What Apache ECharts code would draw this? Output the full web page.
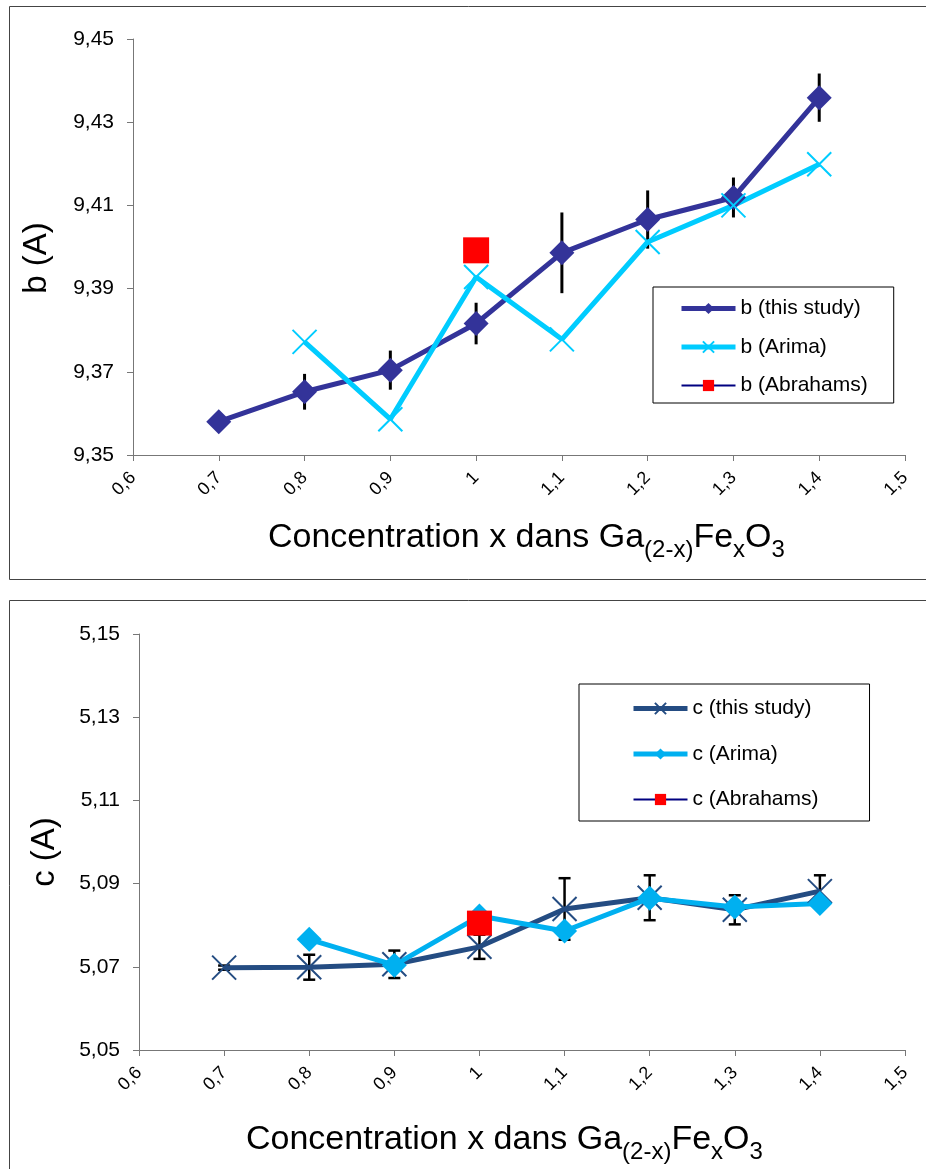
<!DOCTYPE html>
<html><head><meta charset="utf-8">
<script src="https://cdn.jsdelivr.net/npm/echarts@6/dist/echarts.min.js"></script>
<style>html,body{margin:0;padding:0;background:#fff}#c{width:926px;height:1169px}</style>
</head><body><div id="c"></div>
<script>
// ---- data ----
const xValues = [0.7, 0.8, 0.9, 1.0, 1.1, 1.2, 1.3, 1.4];
const bStudy = [9.358, 9.3652, 9.3704, 9.3816, 9.3986, 9.4066, 9.4119, 9.4359];
const bStudyErr = [0, 0.0043, 0.0047, 0.005, 0.0097, 0.007, 0.0048, 0.0058];
const xArima = [0.8, 0.9, 1.0, 1.1, 1.2, 1.3, 1.4];
const bArima = [9.3772, 9.3586, 9.3928, 9.3778, 9.4012, 9.41, 9.4199];
const xAbrahams = [1.0];
const bAbrahams = [9.3992];
const cStudy = [5.0698, 5.0699, 5.0706, 5.0748, 5.0839, 5.0866, 5.0837, 5.0882];
const cStudyErr = [0.0005, 0.003, 0.0033, 0.0029, 0.0074, 0.0054, 0.0035, 0.0038];
const cArima = [5.0766, 5.0704, 5.0822, 5.0786, 5.0865, 5.0844, 5.0852];
const cAbrahams = [5.0805];
const xTickLabels = ['0,6', '0,7', '0,8', '0,9', '1', '1,1', '1,2', '1,3', '1,4', '1,5'];
const bTickLabels = ['9,35', '9,37', '9,39', '9,41', '9,43', '9,45'];
const cTickLabels = ['5,05', '5,07', '5,09', '5,11', '5,13', '5,15'];
const bNames = ['b (this study)', 'b (Arima)', 'b (Abrahams)'];
const cNames = ['c (this study)', 'c (Arima)', 'c (Abrahams)'];

// ---- styling ----
const FONT = '"Liberation Sans", Arial, sans-serif';
const CROSS = 'path://M0,0L24,24M24,0L0,24';
const axisColor = '#777';

function pairs(xs, ys) { return xs.map((x, i) => [x, ys[i]]); }
function errData(xs, ys, es) { return xs.map((x, i) => [x, ys[i] - es[i], ys[i] + es[i]]); }

function errRender(cap, color, width) {
  return function (params, api) {
    const x = api.value(0);
    const p1 = api.coord([x, api.value(2)]);
    const p2 = api.coord([x, api.value(1)]);
    const ch = [{ type: 'line', shape: { x1: p1[0], y1: p1[1], x2: p2[0], y2: p2[1] }, style: { stroke: color, lineWidth: width } }];
    if (cap) {
      ch.push({ type: 'line', shape: { x1: p1[0] - cap, y1: p1[1], x2: p1[0] + cap, y2: p1[1] }, style: { stroke: color, lineWidth: width } });
      ch.push({ type: 'line', shape: { x1: p2[0] - cap, y1: p2[1], x2: p2[0] + cap, y2: p2[1] }, style: { stroke: color, lineWidth: width } });
    }
    return { type: 'group', children: ch };
  };
}

function xAxisCfg(gi) {
  return {
    type: 'value', gridIndex: gi, min: 0.6, max: 1.5, interval: 0.1,
    axisLine: { show: true, onZero: false, lineStyle: { color: axisColor, width: 1 } },
    axisTick: { show: true, inside: false, length: 6, lineStyle: { color: axisColor } },
    splitLine: { show: false },
    axisLabel: {
      rotate: 45, margin: 20, fontSize: 18, color: '#000', fontFamily: FONT,
      formatter: v => xTickLabels[Math.round((v - 0.6) / 0.1)]
    }
  };
}
function yAxisCfg(gi, min, max, labels) {
  return {
    type: 'value', gridIndex: gi, min: min, max: max, interval: 0.02,
    axisLine: { show: true, lineStyle: { color: axisColor, width: 1 } },
    axisTick: { show: true, inside: false, length: 6, lineStyle: { color: axisColor } },
    splitLine: { show: false },
    axisLabel: {
      margin: 19, fontSize: 21, color: '#000', fontFamily: FONT,
      formatter: v => labels[Math.round((v - min) / 0.02)]
    }
  };
}

const legendLineWidths = [5, 5, 2];
function legendCfg(names, left, top, pad, gap) {
  return {
    orient: 'vertical', left: left, top: top, padding: pad,
    itemWidth: 54, itemHeight: 14, itemGap: gap,
    borderColor: '#000', borderWidth: 1, selectedMode: false,
    textStyle: { fontSize: 21, color: '#000', fontFamily: FONT, lineHeight: 20 },
    data: names.map((n, i) => ({ name: n, lineStyle: { width: legendLineWidths[i] } }))
  };
}

const subTitle = {
  m: { fontSize: 34, lineHeight: 40, fontFamily: FONT, color: '#000' },
  s: { fontSize: 24, lineHeight: 24, fontFamily: FONT, color: '#000', padding: [24, 0, 0, 0] }
};
const xTitleText = '{m|Concentration x dans Ga}{s|(2-x)}{m|Fe}{s|x}{m|O}{s|3}';

const chart = echarts.init(document.getElementById('c'), null, { renderer: 'canvas' });
chart.setOption({
  animation: false,
  backgroundColor: '#fff',
  grid: [
    { left: 133, top: 39, width: 772, height: 416 },
    { left: 139, top: 634, width: 766, height: 416 }
  ],
  xAxis: [xAxisCfg(0), xAxisCfg(1)],
  yAxis: [yAxisCfg(0, 9.35, 9.45, bTickLabels), yAxisCfg(1, 5.05, 5.15, cTickLabels)],
  legend: [
    legendCfg(bNames, 653, 287, [11, 26, 7, 26], 17.5),
    legendCfg(cNames, 579, 684, [14, 51, 11, 52], 24.5)
  ],
  graphic: [
    { type: 'rect', silent: true, z: -10, shape: { x: 9.5, y: 6.5, width: 1000, height: 573 }, style: { fill: 'none', stroke: '#444', lineWidth: 1 } },
    { type: 'rect', silent: true, z: -10, shape: { x: 9.5, y: 600.5, width: 1000, height: 700 }, style: { fill: 'none', stroke: '#444', lineWidth: 1 } },
    { type: 'text', silent: true, x: 37, y: 258, rotation: Math.PI / 2,
      style: { text: 'b (A)', fontSize: 33, fontFamily: FONT, fill: '#000', align: 'center', verticalAlign: 'middle' } },
    { type: 'text', silent: true, x: 45, y: 852, rotation: Math.PI / 2,
      style: { text: 'c (A)', fontSize: 33, fontFamily: FONT, fill: '#000', align: 'center', verticalAlign: 'middle' } },
    { type: 'text', silent: true, x: 268, y: 538,
      style: { text: xTitleText, rich: subTitle, align: 'left', verticalAlign: 'middle' } },
    { type: 'text', silent: true, x: 246, y: 1140,
      style: { text: xTitleText, rich: subTitle, align: 'left', verticalAlign: 'middle' } }
  ],
  series: [
    // ---- top chart (b) ----
    { type: 'custom', name: 'errB', xAxisIndex: 0, yAxisIndex: 0, silent: true,
      renderItem: errRender(0, '#000', 3), data: errData(xValues, bStudy, bStudyErr), encode: { x: 0, y: [1, 2] } },
    { type: 'line', name: bNames[0], xAxisIndex: 0, yAxisIndex: 0, data: pairs(xValues, bStudy),
      symbol: 'diamond', symbolSize: 25, showAllSymbol: true,
      lineStyle: { color: '#333399', width: 5 }, itemStyle: { color: '#333399' }, emphasis: { disabled: true } },
    { type: 'line', name: bNames[1], xAxisIndex: 0, yAxisIndex: 0, data: pairs(xArima, bArima),
      symbol: CROSS, symbolSize: 24,
      lineStyle: { color: '#00CCFF', width: 5 }, itemStyle: { color: '#00CCFF', borderColor: '#00CCFF', borderWidth: 2 }, emphasis: { disabled: true } },
    { type: 'line', name: bNames[2], xAxisIndex: 0, yAxisIndex: 0, data: pairs(xAbrahams, bAbrahams),
      symbol: 'rect', symbolSize: 26,
      lineStyle: { color: '#000080', width: 2 }, itemStyle: { color: '#FF0000' }, emphasis: { disabled: true } },
    // ---- bottom chart (c) ----
    { type: 'line', name: cNames[0], xAxisIndex: 1, yAxisIndex: 1, data: pairs(xValues, cStudy),
      symbol: CROSS, symbolSize: 24,
      lineStyle: { color: '#244C82', width: 5 }, itemStyle: { color: '#244C82', borderColor: '#244C82', borderWidth: 2 }, emphasis: { disabled: true } },
    { type: 'custom', name: 'errC', xAxisIndex: 1, yAxisIndex: 1, silent: true,
      renderItem: errRender(6, '#000', 2.5), data: errData(xValues, cStudy, cStudyErr), encode: { x: 0, y: [1, 2] } },
    { type: 'line', name: cNames[1], xAxisIndex: 1, yAxisIndex: 1, data: pairs(xArima, cArima),
      symbol: 'diamond', symbolSize: 25,
      lineStyle: { color: '#00B0F0', width: 5 }, itemStyle: { color: '#00B0F0' }, emphasis: { disabled: true } },
    { type: 'line', name: cNames[2], xAxisIndex: 1, yAxisIndex: 1, data: pairs(xAbrahams, cAbrahams),
      symbol: 'rect', symbolSize: 25,
      lineStyle: { color: '#000080', width: 2 }, itemStyle: { color: '#FF0000' }, emphasis: { disabled: true } }
  ]
});
</script></body></html>
